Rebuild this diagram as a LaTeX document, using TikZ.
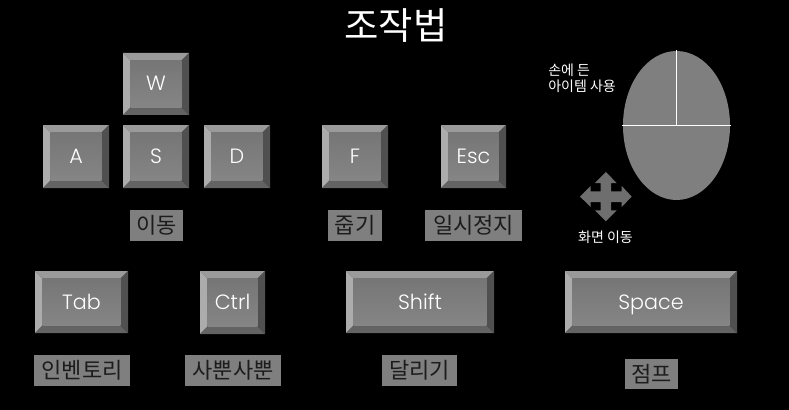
\documentclass[tikz,border=0pt]{standalone}
\usepackage{fontspec}
\usetikzlibrary{shapes.geometric}
\setmainfont{Poppins Light}
\newfontfamily\kofont{Noto Sans CJK KR}
\definecolor{facetop}{HTML}{767676}
\definecolor{facebot}{HTML}{858585}
\definecolor{topc}{HTML}{9A9A9A}
\definecolor{leftc}{HTML}{ACACAC}
\definecolor{rightc}{HTML}{505050}
\definecolor{botc}{HTML}{636363}
\definecolor{labc}{HTML}{7F7F7F}
\definecolor{inkc}{HTML}{1C1C1C}
\definecolor{arrc}{HTML}{6E6E6E}
\tikzset{
  keyface/.style={top color=facetop,bottom color=facebot,draw=none,inner sep=0pt,text=white,text height=10.5pt,text depth=0pt,font=\fontsize{15.5}{16}\selectfont},
  tag/.style={fill=labc,draw=none,inner sep=0pt,text=inkc,font=\kofont\fontsize{16.5}{18}\selectfont},
  note/.style={text=white,inner sep=0pt,align=left,font=\kofont\fontsize{10.5}{12}\selectfont},
  divider/.style={draw=white,line width=0.75pt},
}
% name, x0, y0, x1, y1, text (pixels)
\newcommand{\keycap}[6]{
  \fill[topc] (#2,#3) -- (#4,#3) -- (#4-7.5,#3+7.5) -- (#2+7.5,#3+7.5) -- cycle;
  \fill[leftc] (#2,#3) -- (#2+7.5,#3+7.5) -- (#2+7.5,#5-7.5) -- (#2,#5) -- cycle;
  \fill[rightc] (#4,#3) -- (#4,#5) -- (#4-7.5,#5-7.5) -- (#4-7.5,#3+7.5) -- cycle;
  \fill[botc] (#2,#5) -- (#2+7.5,#5-7.5) -- (#4-7.5,#5-7.5) -- (#4,#5) -- cycle;
  \node[keyface,minimum width={(#4-#2-15)*0.75pt},minimum height={(#5-#3-15)*0.75pt}] (#1) at ({(#2+#4)/2},{(#3+#5)/2}) {#6};
}
% name, x0, y0, x1, y1, text
\newcommand{\taglabel}[6]{
  \node[tag,minimum width={(#4-#2)*0.75pt},minimum height={(#5-#3)*0.75pt}] (#1) at ({(#2+#4)/2},{(#3+#5)/2}) {#6};
}
\begin{document}
\begin{tikzpicture}[x=0.75pt,y=-0.75pt]
\useasboundingbox[fill=black] (0,0) rectangle (789,410);
\node[text=white,inner sep=0pt,font=\kofont\fontsize{28}{32}\selectfont] (title) at (396,26) {조작법};
\keycap{keyW}{123}{53}{189}{115}{W}
\keycap{keyA}{43}{125}{109}{188}{A}
\keycap{keyS}{123}{125}{189}{188}{S}
\keycap{keyD}{204}{125}{270}{188}{D}
\keycap{keyF}{322}{125}{388}{188}{F}
\keycap{keyEsc}{441}{125}{506}{188}{Esc}
\keycap{keyTab}{35}{271}{128}{333}{Tab}
\keycap{keyCtrl}{200}{271}{265}{334}{Ctrl}
\keycap{keyShift}{346}{271}{494}{333}{Shift}
\keycap{keySpace}{565}{271}{737}{333}{Space}
\taglabel{tagMove}{130}{210}{183}{241}{이동}
\taglabel{tagPick}{328}{210}{382}{241}{줍기}
\taglabel{tagPause}{425}{210}{522}{241}{일시정지}
\taglabel{tagInv}{34}{355}{130}{386}{인벤토리}
\taglabel{tagSneak}{185}{355}{281}{386}{사뿐사뿐}
\taglabel{tagRun}{382}{355}{457}{386}{달리기}
\taglabel{tagJump}{625}{359}{678}{389}{점프}
\node[note,anchor=north west] (useitem) at (548,64) {손에 든\\아이템 사용};
\node[note] (look) at (605.5,237) {화면 이동};
\node[ellipse,fill=labc,draw=none,inner sep=0pt,minimum width=80.25pt,minimum height=111.75pt] (mouse) at (676.5,125.5) {};
\draw[divider] (622,125) -- (731,125);
\draw[divider] (676,50) -- (676,125);
\fill[arrc] (605.8,172) -- (616.7,183) -- (611,183) -- (611,191.3) -- (621.7,191.3) -- (621.7,186) -- (631.7,196.6) -- (621.7,207) -- (621.7,202) -- (611,202) -- (611,210.3) -- (616.7,210.3) -- (605.8,221.3) -- (595,210.3) -- (600.7,210.3) -- (600.7,202) -- (590.7,202) -- (590.7,207) -- (580,196.6) -- (590.7,186) -- (590.7,191.3) -- (600.7,191.3) -- (600.7,183) -- (595,183) -- cycle;
\end{tikzpicture}
\end{document}
